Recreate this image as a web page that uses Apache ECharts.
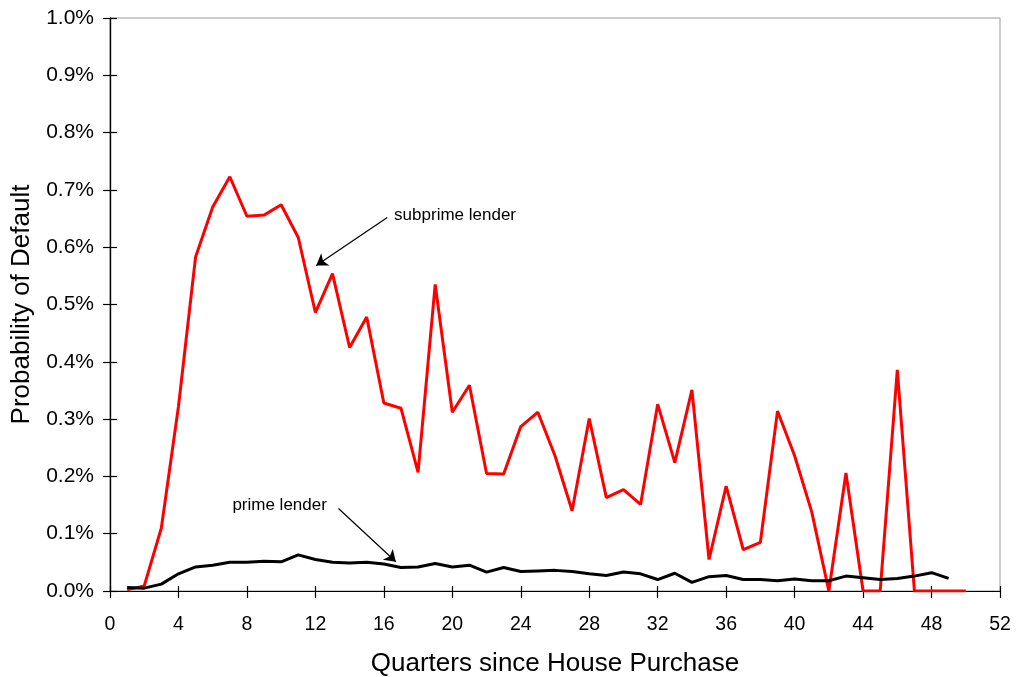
<!DOCTYPE html>
<html>
<head>
<meta charset="utf-8">
<script src="https://cdn.jsdelivr.net/npm/echarts@6/dist/echarts.min.js"></script>
<style>html,body{margin:0;padding:0;background:#fff}#c{width:1018px;height:677px}</style>
</head>
<body>
<div id="c"></div>
<script>
// Quarters since house purchase and default probability (%)
const subprimeQuarters = [1,2,3,4,5,6,7,8,9,10,11,12,13,14,15,16,17,18,19,20,21,22,23,24,25,26,27,28,29,30,31,32,33,34,35,36,37,38,39,40,41,42,43,44,45,46,47,48,49,50];
const subprimeValues = [0.002,0.009,0.110,0.322,0.583,0.670,0.723,0.654,0.656,0.674,0.617,0.486,0.554,0.425,0.478,0.328,0.319,0.207,0.535,0.312,0.359,0.205,0.204,0.287,0.312,0.236,0.140,0.301,0.163,0.177,0.151,0.326,0.224,0.351,0.055,0.183,0.072,0.085,0.314,0.236,0.138,0.000,0.206,0.000,0.000,0.386,0.000,0.000,0.000,0.000];
const primeQuarters = [1,2,3,4,5,6,7,8,9,10,11,12,13,14,15,16,17,18,19,20,21,22,23,24,25,26,27,28,29,30,31,32,33,34,35,36,37,38,39,40,41,42,43,44,45,46,47,48,49];
const primeValues = [0.006,0.005,0.012,0.030,0.042,0.045,0.050,0.050,0.052,0.051,0.063,0.055,0.050,0.049,0.050,0.047,0.041,0.042,0.048,0.042,0.045,0.033,0.041,0.034,0.035,0.036,0.034,0.030,0.027,0.033,0.030,0.020,0.031,0.015,0.025,0.027,0.020,0.020,0.018,0.021,0.018,0.018,0.026,0.023,0.020,0.022,0.026,0.032,0.022];
const xTicks = {min: 0, max: 52, interval: 4};
const yTicks = {min: 0, max: 1.0, interval: 0.1};
const subprimeLabel = 'subprime lender';
const primeLabel = 'prime lender';
// annotation anchor points in data coordinates
const subprimeArrow = [[16.2, 0.652], [12.05, 0.568]];
const primeArrow = [[13.35, 0.144], [16.7, 0.051]];
const subprimeTextAt = [16.6, 0.656];
const primeTextAt = [7.15, 0.150];

const font = 'Liberation Sans, Arial, Helvetica, sans-serif';
const chart = echarts.init(document.getElementById('c'), null, {renderer: 'canvas'});
const pair = arr => arr[0].map((q, i) => [q, arr[1][i]]);

function arrowLine(pts) {
  return {
    silent: true, animation: false,
    symbol: ['none', 'arrow'], symbolSize: 11,
    lineStyle: {color: '#000', width: 1.2, type: 'solid'},
    itemStyle: {color: '#000'},
    label: {show: false},
    emphasis: {disabled: true},
    data: [[{coord: pts[0]}, {coord: pts[1]}]]
  };
}
function textPoint(at, txt) {
  return {
    silent: true, animation: false,
    symbol: 'circle', symbolSize: 0,
    label: {show: true, position: 'right', distance: 0, formatter: txt, color: '#000', fontFamily: font, fontSize: 17},
    data: [{coord: at}]
  };
}

const axisCommonX = {
  type: 'value', min: xTicks.min, max: xTicks.max, interval: xTicks.interval,
  splitLine: {show: false},
  axisLine: {show: true, onZero: false, lineStyle: {color: '#000', width: 1.2}}
};
const axisCommonY = {
  type: 'value', min: yTicks.min, max: yTicks.max, interval: yTicks.interval,
  splitLine: {show: false},
  axisLine: {show: true, onZero: false, lineStyle: {color: '#000', width: 1.2}}
};

chart.setOption({
  animation: false,
  backgroundColor: '#fff',
  grid: {left: 110, right: 18, top: 18, bottom: 86, show: true, borderColor: '#999', borderWidth: 1,
    containLabel: false, outerBoundsMode: 'none'},
  xAxis: [
    Object.assign({}, axisCommonX, {
      position: 'bottom',
      name: 'Quarters since House Purchase', nameLocation: 'middle', nameGap: 60,
      nameTextStyle: {fontFamily: font, fontSize: 26, color: '#000'},
      axisTick: {show: true, inside: false, length: 7, lineStyle: {color: '#000', width: 1.2}},
      axisLabel: {margin: 24, fontFamily: font, fontSize: 19.5, color: '#000'}
    }),
    Object.assign({}, axisCommonX, {
      position: 'bottom',
      axisTick: {show: true, inside: true, length: 5, lineStyle: {color: '#000', width: 1.2}},
      axisLabel: {show: false}
    })
  ],
  yAxis: [
    Object.assign({}, axisCommonY, {
      position: 'left',
      name: 'Probability of Default', nameLocation: 'middle', nameGap: 74, nameRotate: 90,
      nameTextStyle: {fontFamily: font, fontSize: 26, color: '#000'},
      axisTick: {show: true, inside: false, length: 7, lineStyle: {color: '#000', width: 1.2}},
      axisLabel: {margin: 16, fontFamily: font, fontSize: 21, color: '#000',
        formatter: v => v.toFixed(1) + '%'}
    }),
    Object.assign({}, axisCommonY, {
      position: 'left',
      axisTick: {show: true, inside: true, length: 7, lineStyle: {color: '#000', width: 1.2}},
      axisLabel: {show: false}
    })
  ],
  series: [
    {
      name: primeLabel, type: 'line', xAxisIndex: 0, yAxisIndex: 0,
      data: pair([primeQuarters, primeValues]),
      showSymbol: false, symbol: 'none',
      lineStyle: {color: '#000', width: 3}, itemStyle: {color: '#000'},
      z: 3,
      markLine: arrowLine(primeArrow),
      markPoint: textPoint(primeTextAt, primeLabel)
    },
    {
      name: subprimeLabel, type: 'line', xAxisIndex: 0, yAxisIndex: 0,
      data: pair([subprimeQuarters, subprimeValues]),
      showSymbol: false, symbol: 'none',
      lineStyle: {color: '#ff0000', width: 3}, itemStyle: {color: '#ff0000'},
      z: 2,
      markLine: arrowLine(subprimeArrow),
      markPoint: textPoint(subprimeTextAt, subprimeLabel)
    }
  ]
});
</script>
</body>
</html>
